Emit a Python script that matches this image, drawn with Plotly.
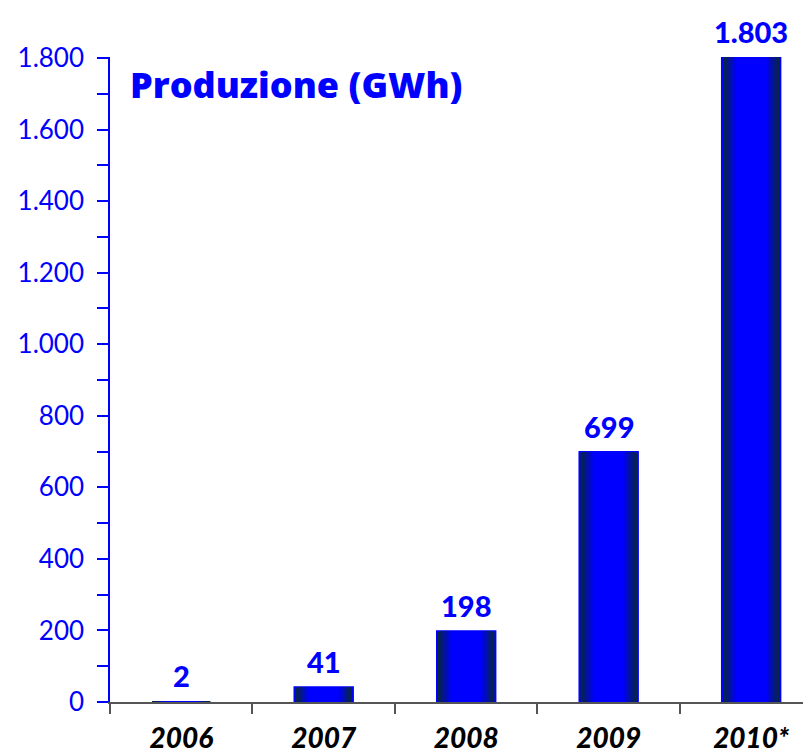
import plotly.graph_objects as go

years = ["2006", "2007", "2008", "2009", "2010*"]
production = [2, 41, 198, 699, 1803]
y_ticks = [0, 200, 400, 600, 800, 1000, 1200, 1400, 1600, 1800]
y_tick_labels = ["0", "200", "400", "600", "800", "1.000", "1.200", "1.400", "1.600", "1.800"]
title_text = "Produzione (GWh)"

FONT = "Lato"
BLUE = "#0000ff"

def fmt(v):
    return f"{v:,}".replace(",", ".")

fig = go.Figure()

# gradient emulation: overlay bars of decreasing width, dark edges -> bright blue centre
base_w = 0.41
dark = (8, 40, 55)
bright = (0, 0, 255)
steps = 14
outline_w = [2 if v > 10 else 0 for v in production]
for k in range(steps):
    t = k / (steps - 1)
    frac = min(1.0, t * 1.6)
    c = tuple(int(dark[i] + (bright[i] - dark[i]) * frac) for i in range(3))
    w = base_w * (1 - 0.75 * t)
    fig.add_trace(go.Bar(
        x=years, y=production, width=w,
        marker=dict(color=f"rgb{c}",
                    line=dict(color=BLUE if k == 0 else "rgba(0,0,0,0)",
                              width=outline_w if k == 0 else 0)),
        hoverinfo="skip", showlegend=False,
    ))

for i, v in enumerate(production):
    fig.add_annotation(x=i, y=v, text=fmt(v), showarrow=False,
                       yanchor="bottom", yshift=6,
                       font=dict(family=FONT, size=29, color=BLUE, weight=900))

fig.add_annotation(xref="paper", yref="paper", x=0.026, y=0.958, xanchor="left", yanchor="middle",
                   text=title_text, showarrow=False,
                   font=dict(family="Open Sans", size=36, color=BLUE, weight=800))

# page body has an 8px default margin, so the figure is sized/placed to compensate
fig.update_layout(
    width=803, height=748,
    margin=dict(l=102, r=0, t=49, b=54),
    barmode="overlay",
    plot_bgcolor="white", paper_bgcolor="white",
    separators=",.",
    xaxis=dict(type="category", range=[-0.5, 4.42], tickson="boundaries",
               ticks="outside", ticklen=10, tickcolor="#555", tickwidth=1.5,
               showline=True, linecolor="#555", linewidth=1.5,
               showgrid=False, zeroline=False,
               ticklabelstandoff=11,
               tickfont=dict(family=FONT, size=28, color="black", weight=900, style="italic")),
    yaxis=dict(range=[0, 1803], tickvals=y_ticks, ticktext=y_tick_labels,
               ticks="outside", ticklen=11, tickcolor=BLUE, tickwidth=1.5,
               showline=True, linecolor=BLUE, linewidth=1.5,
               showgrid=False, zeroline=False,
               ticklabelstandoff=8,
               minor=dict(dtick=100, ticks="outside", ticklen=11, tickcolor=BLUE, tickwidth=1.5),
               tickfont=dict(family=FONT, size=26, color=BLUE)),
)

fig.write_html("out.html")
